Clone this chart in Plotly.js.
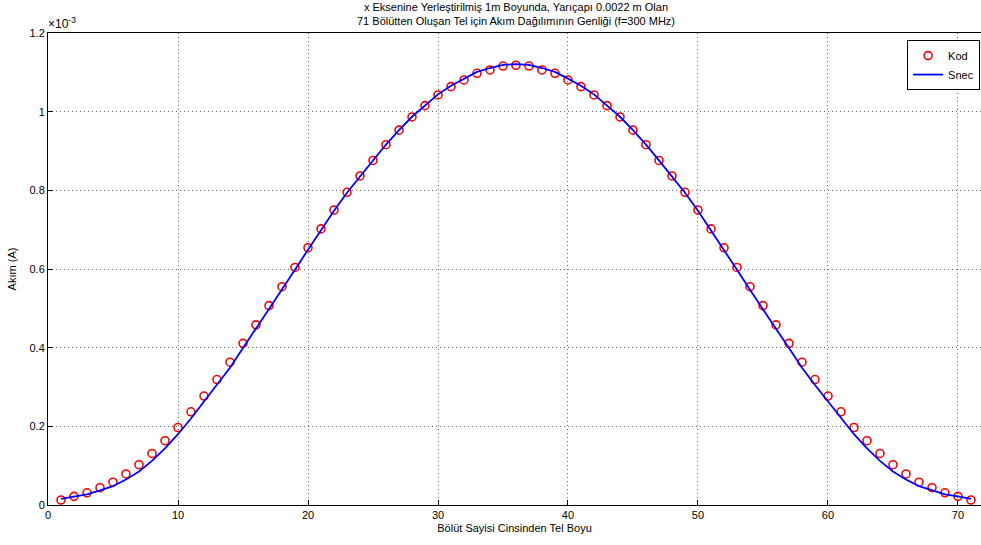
<!DOCTYPE html>
<html>
<head>
<meta charset="utf-8">
<script src="https://cdn.plot.ly/plotly-3.0.1.min.js"></script>
<style>html,body{margin:0;padding:0;background:#fff;overflow:hidden;}</style>
</head>
<body>
<div id="chart" style="width:981px;height:545px;"></div>
<script>
// Segment index along the wire (1..71)
const segments = [1,2,3,4,5,6,7,8,9,10,11,12,13,14,15,16,17,18,19,20,21,22,23,24,25,26,27,28,29,30,31,32,33,34,35,36,37,38,39,40,41,42,43,44,45,46,47,48,49,50,51,52,53,54,55,56,57,58,59,60,61,62,63,64,65,66,67,68,69,70,71];

// Current magnitude, in units of 1e-3 A (axis shows x10^-3)
const kod = [0.0127,0.022,0.031,0.044,0.058,0.079,0.1025,0.131,0.1635,0.197,0.237,0.277,0.319,0.363,0.411,0.458,0.507,0.555,0.604,0.654,0.702,0.750,0.795,0.8365,0.876,0.916,0.953,0.9865,1.0153,1.0425,1.0636,1.0806,1.0975,1.106,1.116,1.118,
             1.116,1.106,1.0975,1.0806,1.0636,1.0425,1.0153,0.9865,0.953,0.916,0.876,0.8365,0.795,0.750,0.702,0.654,0.604,0.555,0.507,0.458,0.411,0.363,0.319,0.277,0.237,0.197,0.1635,0.131,0.1025,0.079,0.058,0.044,0.031,0.022,0.0127];

const snec = [0.0157,0.022,0.027,0.037,0.048,0.065,0.085,0.112,0.144,0.180,0.220,0.263,0.305,0.349,0.399,0.448,0.499,0.547,0.598,0.649,0.699,0.748,0.794,0.836,0.876,0.916,0.953,0.987,1.016,1.044,1.066,1.084,1.101,1.111,1.119,1.121,
              1.119,1.111,1.101,1.084,1.066,1.044,1.016,0.987,0.953,0.916,0.876,0.836,0.794,0.748,0.699,0.649,0.598,0.547,0.499,0.448,0.399,0.349,0.305,0.263,0.220,0.180,0.144,0.112,0.085,0.065,0.048,0.037,0.027,0.022,0.0157];

const xTicks = [0,10,20,30,40,50,60,70];
const yTicks = [0,0.2,0.4,0.6,0.8,1,1.2];
const yTickText = ['0','0.2','0.4','0.6','0.8','1','1.2'];

const titleText = 'x Eksenine Yerleştirilmiş 1m Boyunda, Yarıçapı 0.0022 m Olan<br>71 Bölütten Oluşan Tel için Akım Dağılımının Genliği (f=300 MHz)';

const fam = 'Liberation Sans, Arial, sans-serif';
const font = {family: fam, size: 11, color: '#000'};

const traces = [
  {x: segments, y: kod, name: 'Kod', type: 'scatter', mode: 'markers',
   marker: {symbol: 'circle-open', size: 8, color: '#ff0000', line: {width: 1.6, color: '#ff0000'}}},
  {x: segments, y: snec, name: 'Snec', type: 'scatter', mode: 'lines',
   line: {color: '#0000ff', width: 1.8}}
];

const layout = {
  width: 981, height: 545,
  margin: {l: 48, r: 0, t: 33, b: 40},
  paper_bgcolor: '#fff', plot_bgcolor: '#fff',
  font: font,
  showlegend: true,
  xaxis: {
    range: [0, 71.77], tickvals: xTicks, ticktext: xTicks.map(String),
    ticks: 'inside', ticklen: 5, tickcolor: '#000', showline: true, linecolor: '#000', linewidth: 1, mirror: true,
    showgrid: true, gridcolor: '#666', griddash: '1px,3px', gridwidth: 1, zeroline: false,
    tickfont: font,
    title: {text: 'Bölüt Sayisi Cinsinden Tel Boyu', font: font, standoff: 4}
  },
  yaxis: {
    range: [0, 1.2], tickvals: yTicks, ticktext: yTickText,
    ticks: 'inside', ticklen: 5, tickcolor: '#000', showline: true, linecolor: '#000', linewidth: 1,
    showgrid: true, gridcolor: '#666', griddash: '1px,3px', gridwidth: 1, zeroline: false,
    tickfont: font,
    title: {text: 'Akım (A)', font: font, standoff: 10}
  },
  legend: {x: 0.999, xanchor: 'right', y: 0.985, yanchor: 'top', bgcolor: '#fff', bordercolor: '#000', borderwidth: 1,
           font: font, tracegroupgap: 0, itemwidth: 30},
  annotations: [
    {text: titleText, xref: 'paper', yref: 'paper', x: 0.502, y: 1, xanchor: 'center', yanchor: 'bottom',
     showarrow: false, font: font, yshift: 4},
    {text: '×10<sup>-3</sup>', xref: 'paper', yref: 'paper', x: 0, y: 1, xanchor: 'left', yanchor: 'bottom',
     showarrow: false, font: {family: fam, size: 12, color: '#000'}, xshift: -2, yshift: 0}
  ]
};

Plotly.newPlot('chart', traces, layout, {displayModeBar: false, staticPlot: true});
</script>
</body>
</html>
